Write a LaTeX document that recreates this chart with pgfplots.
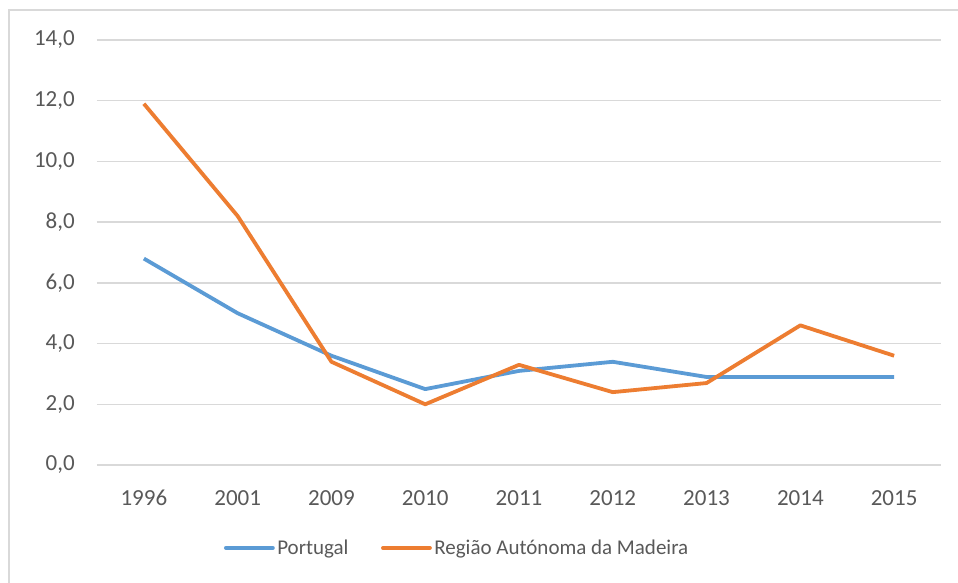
\documentclass[border=0pt]{standalone}
\usepackage{fontspec}
\setmainfont{Carlito}
\usepackage{pgfplots}
\pgfplotsset{compat=1.18}
\definecolor{pblue}{HTML}{5B9BD5}
\definecolor{porange}{HTML}{ED7D31}
\definecolor{tickgray}{HTML}{595959}
\definecolor{gridgray}{HTML}{D9D9D9}
\begin{document}
\begin{tikzpicture}
\useasboundingbox (-97pt,-117pt) rectangle (861pt,465pt);
\fill[white] (-97pt,-117pt) rectangle (861pt,465pt);
\draw[gridgray, line width=1.5pt] (-88pt,-120pt) -- (-88pt,455pt) -- (865pt,455pt);
\begin{axis}[
  at={(0pt,0pt)}, anchor=south west,
  scale only axis, width=844pt, height=425pt,
  xmin=-0.5, xmax=8.5, ymin=0, ymax=14,
  xtick={0,...,8},
  xticklabels={1996,2001,2009,2010,2011,2012,2013,2014,2015},
  ytick={0,2,...,14},
  axis line style={draw=none},
  major tick length=0pt,
  ymajorgrids, grid style={gridgray, line width=1.5pt},
  /pgf/number format/.cd, fixed, fixed zerofill, precision=1, use comma, assume math mode=true,
  /pgfplots/.cd,
  tick label style={font=\fontsize{23}{27}\selectfont, text=tickgray, inner sep=0pt},
  yticklabel style={anchor=east, xshift=-22pt},
  xticklabel style={anchor=north, yshift=-25pt},
  legend style={at={(0.427,-0.195)}, anchor=center, draw=none, fill=none,
    font=\fontsize{21}{25}\selectfont, text=tickgray, inner sep=0pt,
    nodes={inner sep=2.5pt},
    /tikz/every even column/.append style={column sep=30pt}},
  legend columns=2,
  legend image code/.code={\draw[#1, line cap=round] (0pt,0pt) -- (47pt,0pt);},
]
\addplot[pblue, line width=3.8pt, line join=round] coordinates {
(0,6.8) (1,5.0) (2,3.6) (3,2.5) (4,3.1) (5,3.4) (6,2.9) (7,2.9) (8,2.9)};
\addlegendentry{Portugal}
\addplot[porange, line width=3.8pt, line join=round] coordinates {
(0,11.9) (1,8.2) (2,3.4) (3,2.0) (4,3.3) (5,2.4) (6,2.7) (7,4.6) (8,3.6)};
\addlegendentry{Região Autónoma da Madeira}
\end{axis}
\end{tikzpicture}
\end{document}
